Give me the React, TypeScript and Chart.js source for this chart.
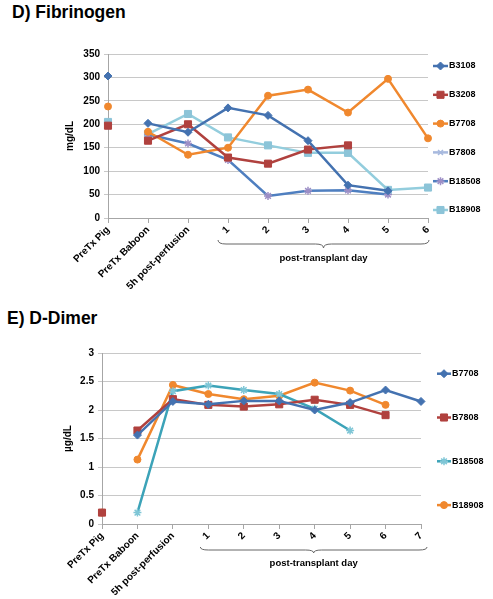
import React, { useEffect, useRef } from 'react';
import { Chart, registerables } from 'chart.js';
import { drawPoint } from 'chart.js/helpers';

Chart.register(...registerables);

// ---------- D) Fibrinogen ----------
const fibCategories = ['PreTx Pig', 'PreTx Baboon', '5h post-perfusion', '1', '2', '3', '4', '5', '6'];
const fibB3108 = [303, 202, 183, 235, 219, 165, 70, 58, null];
const fibB3208 = [197, 165, 200, 129, 116, 146, 155, null, null];
const fibB7708 = [238, 184, 135, 150, 261, 274, 225, 297, 170];
const fibB7808 = [null, null, null, null, null, null, null, null, null];
const fibB18508 = [null, 178, 159, 124, 47, 58, 59, 50, null];
const fibB18908 = [205, 179, 222, 172, 155, 139, 139, 60, 65];

// ---------- E) D-Dimer ----------
const ddCategories = ['PreTx Pig', 'PreTx Baboon', '5h post-perfusion', '1', '2', '3', '4', '5', '6', '7'];
const ddB7708 = [null, 1.56, 2.15, 2.1, 2.16, 2.16, 2.0, 2.13, 2.35, 2.15];
const ddB7808 = [0.2, 1.64, 2.19, 2.09, 2.06, 2.1, 2.18, 2.09, 1.91, null];
const ddB18508 = [null, 0.2, 2.33, 2.43, 2.35, 2.28, 2.02, 1.64, null, null];
const ddB18908 = [0.2, 1.13, 2.44, 2.28, 2.19, 2.25, 2.48, 2.34, 2.09, null];

const FONT = '"Liberation Sans", Arial, sans-serif';

function series(label: string, data: (number | null)[], line: string, marker: string, style: string, radius: number) {
  return {
    label,
    data,
    borderColor: line,
    backgroundColor: marker,
    pointBackgroundColor: marker,
    pointBorderColor: marker,
    pointStyle: style,
    pointRadius: radius,
    pointBorderWidth: style === 'star' || style === 'crossRot' ? 1.5 : 1,
    borderWidth: 2.5,
    spanGaps: false,
    segment: {
      borderColor: (ctx: any) => (ctx.p0DataIndex === 0 ? 'rgba(0,0,0,0)' : undefined),
    },
  };
}

const legendPlugin = {
  id: 'sideLegend',
  afterDraw(chart: any, _args: any, opts: any) {
    const ctx = chart.ctx;
    chart.data.datasets.forEach((ds: any, i: number) => {
      const y = opts.top + i * opts.spacing;
      ctx.save();
      ctx.strokeStyle = ds.borderColor;
      ctx.lineWidth = 2.5;
      ctx.beginPath();
      ctx.moveTo(opts.x, y);
      ctx.lineTo(opts.x + opts.lineLen, y);
      ctx.stroke();
      ctx.fillStyle = ds.pointBackgroundColor;
      ctx.strokeStyle = ds.pointBorderColor;
      ctx.lineWidth = ds.pointBorderWidth;
      drawPoint(ctx, { pointStyle: ds.pointStyle, radius: ds.pointRadius, borderWidth: ds.pointBorderWidth, rotation: 0 } as any, opts.x + opts.lineLen / 2, y);
      ctx.fillStyle = '#000';
      ctx.font = `bold 9px ${FONT}`;
      ctx.textBaseline = 'middle';
      ctx.textAlign = 'left';
      ctx.fillText(ds.label, opts.x + opts.lineLen + 1, y);
      ctx.restore();
    });
  },
};

const bracePlugin = {
  id: 'brace',
  afterDraw(chart: any, _args: any, opts: any) {
    const ctx = chart.ctx;
    const xs = chart.scales.x;
    const bottom = chart.chartArea.bottom;
    const x0 = xs.getPixelForValue(opts.from) + opts.dx0;
    const x1 = xs.getPixelForValue(opts.to) + opts.dx1;
    const xm = (x0 + x1) / 2;
    const yt = bottom + opts.top;
    const h = opts.height;
    const ym = yt + h / 2;
    const yb = yt + h;
    const r = 8;
    ctx.save();
    ctx.strokeStyle = '#666';
    ctx.lineWidth = 1;
    ctx.beginPath();
    ctx.moveTo(x0, yt);
    ctx.quadraticCurveTo(x0, ym, x0 + r, ym);
    ctx.lineTo(xm - r, ym);
    ctx.quadraticCurveTo(xm, ym, xm, yb);
    ctx.quadraticCurveTo(xm, ym, xm + r, ym);
    ctx.lineTo(x1 - r, ym);
    ctx.quadraticCurveTo(x1, ym, x1, yt);
    ctx.stroke();
    ctx.fillStyle = '#000';
    ctx.font = `bold 9.5px ${FONT}`;
    ctx.textAlign = 'center';
    ctx.textBaseline = 'middle';
    ctx.fillText(opts.text, xm, bottom + opts.textY);
    ctx.restore();
  },
};

function makeOptions(cfg: any) {
  return {
    responsive: false,
    animation: false,
    events: [],
    layout: { padding: { left: cfg.padLeft, right: cfg.padRight, top: cfg.padTop, bottom: 0 } },
    plugins: {
      legend: { display: false },
      tooltip: { enabled: false },
      sideLegend: cfg.legend,
      brace: cfg.brace,
    },
    scales: {
      x: {
        type: 'category',
        offset: false,
        grid: { drawOnChartArea: false, tickLength: 5, color: '#A6A6A6', offset: false },
        border: { color: '#A6A6A6', width: 1 },
        ticks: {
          autoSkip: false,
          maxRotation: 45,
          minRotation: 45,
          padding: 1,
          color: '#000',
          font: { family: FONT, size: 10, weight: 'bold' },
        },
        afterFit: (s: any) => {
          s.height = cfg.xHeight;
        },
      },
      y: {
        min: 0,
        max: cfg.yMax,
        ticks: {
          stepSize: cfg.yStep,
          padding: 4,
          color: '#000',
          font: { family: FONT, size: 10, weight: 'bold' },
          callback: (v: any) => String(Number(v)),
        },
        grid: { color: '#C8C8C8', tickLength: 4, lineWidth: 1 },
        border: { color: '#A6A6A6', width: 1 },
        title: {
          display: true,
          text: cfg.yTitle,
          color: '#000',
          font: { family: FONT, size: 10, weight: 'bold' },
          padding: { top: 4, bottom: 4 },
        },
        afterFit: (s: any) => {
          s.width = cfg.yWidth;
        },
      },
    },
  };
}

function ChartCanvas({ config, width, height, top }: any) {
  const ref = useRef<HTMLCanvasElement>(null);
  useEffect(() => {
    const chart = new Chart(ref.current as HTMLCanvasElement, config);
    return () => chart.destroy();
  }, []);
  return (
    <canvas
      ref={ref}
      width={width}
      height={height}
      style={{ position: 'absolute', left: 0, top, width, height }}
    />
  );
}

export default function App() {
  const fibConfig: any = {
    type: 'line',
    data: {
      labels: fibCategories,
      datasets: [
        series('B3108', fibB3108, '#4472B0', '#4472B0', 'rectRot', 4),
        series('B3208', fibB3208, '#B0413E', '#B0413E', 'rect', 5),
        series('B7708', fibB7708, '#F0882E', '#F0882E', 'circle', 3.5),
        series('B7808', fibB7808, '#A7B9DE', '#A7B9DE', 'crossRot', 3.5),
        series('B18508', fibB18508, '#4F7FC0', '#9D8FC6', 'star', 4),
        series('B18908', fibB18908, '#93CDDD', '#8CC4D8', 'rect', 5),
      ],
    },
    options: makeOptions({
      padLeft: 60,
      padRight: 65,
      padTop: 24,
      yWidth: 48,
      xHeight: 72,
      yMax: 350,
      yStep: 50,
      yTitle: 'mg/dL',
      legend: { x: 433, top: 36, spacing: 28.8, lineLen: 15 },
      brace: { from: 3, to: 8, dx0: -10, dx1: 1, top: 22, height: 8, textY: 40, text: 'post-transplant day' },
    }),
    plugins: [legendPlugin, bracePlugin],
  };

  const ddConfig: any = {
    type: 'line',
    data: {
      labels: ddCategories,
      datasets: [
        series('B7708', ddB7708, '#4472B0', '#4472B0', 'rectRot', 4),
        series('B7808', ddB7808, '#B0413E', '#B0413E', 'rect', 5),
        series('B18508', ddB18508, '#3CA3B8', '#7FC6D6', 'star', 4),
        series('B18908', ddB18908, '#F0882E', '#F0882E', 'circle', 3.5),
      ],
    },
    options: makeOptions({
      padLeft: 58,
      padRight: 72,
      padTop: 23,
      yWidth: 44,
      xHeight: 75,
      yMax: 3,
      yStep: 0.5,
      yTitle: 'µg/dL',
      legend: { x: 437, top: 43.7, spacing: 43.8, lineLen: 14 },
      brace: { from: 3, to: 9, dx0: -8, dx1: 6, top: 23, height: 6, textY: 39, text: 'post-transplant day' },
    }),
    plugins: [legendPlugin, bracePlugin],
  };

  const titleStyle: any = {
    position: 'absolute',
    fontFamily: FONT,
    fontWeight: 'bold',
    whiteSpace: 'nowrap',
    color: '#000',
  };

  return (
    <div style={{ position: 'absolute', left: 0, top: 0, width: 493, height: 599, background: '#fff', overflow: 'hidden' }}>
      <div style={{ ...titleStyle, left: 12, top: 2, fontSize: 17.5, lineHeight: '20px' }}>D) Fibrinogen</div>
      <ChartCanvas config={fibConfig} width={493} height={260} top={30} />
      <div style={{ ...titleStyle, left: 7, top: 308, fontSize: 17.5, lineHeight: '20px' }}>E) D-Dimer</div>
      <ChartCanvas config={ddConfig} width={493} height={269} top={330} />
    </div>
  );
}
